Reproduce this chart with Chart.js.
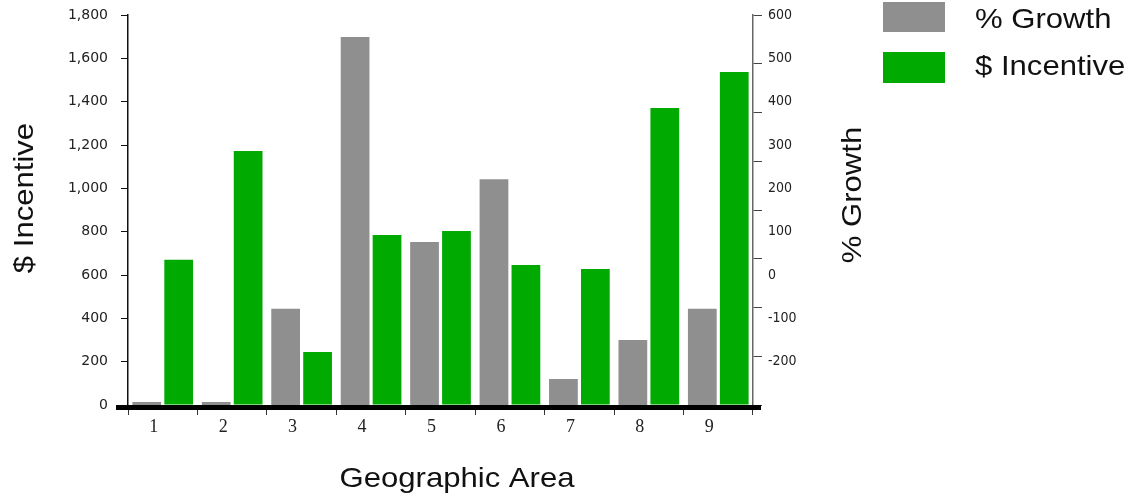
<!DOCTYPE html>
<html>
<head>
<meta charset="utf-8">
<script src="https://cdn.jsdelivr.net/npm/chart.js@4/dist/chart.umd.min.js"></script>
<style>
  html, body { margin: 0; padding: 0; background: #fff; }
  canvas { display: block; }
</style>
</head>
<body>
<canvas id="c" width="1135" height="500"></canvas>
<script>
// Geographic areas on the category axis
const areas = ['1', '2', '3', '4', '5', '6', '7', '8', '9'];
// % Growth per area (right axis)
const growthPct = [-293, -293, -78, 549, 76, 221, -240, -150, -78];
// $ Incentive per area (left axis)
const incentive = [670, 1172, 245, 785, 803, 646, 628, 1371, 1537];

// Axis ranges and steps
const incentiveRange = [0, 1800, 200];
const growthRange = [-300, 600, 100];
const growthMarkCount = 8;

const GREY = '#8f8f8f';
const GREEN = '#00aa00';
const TITLE_FONT = '28px "Liberation Sans", Arial, sans-serif';
const STRETCH = 1.11;

function wideText(ctx, text, x, y, rot, align) {
  ctx.save();
  ctx.translate(x, y);
  ctx.rotate(rot);
  ctx.scale(STRETCH, 1);
  ctx.textAlign = align;
  ctx.textBaseline = 'alphabetic';
  ctx.fillText(text, 0, 0);
  ctx.restore();
}

const decor = {
  id: 'decor',
  afterDatasetsDraw(chart) {
    const { ctx, chartArea: a } = chart;
    ctx.save();
    ctx.fillStyle = '#000';
    ctx.fillRect(a.left - 12, a.bottom, a.right - a.left + 20, 5);
    ctx.restore();
  },
  afterDraw(chart) {
    const { ctx } = chart;
    ctx.save();
    ctx.fillStyle = '#111';
    ctx.font = TITLE_FONT;
    // axis titles
    wideText(ctx, '$ Incentive', 33, 198, -Math.PI / 2, 'center');
    wideText(ctx, '% Growth', 861, 195, -Math.PI / 2, 'center');
    wideText(ctx, 'Geographic Area', 457, 487, 0, 'center');
    // legend
    const rows = [[2, 30, 28], [52, 31, 75]];
    chart.data.datasets.forEach((ds, i) => {
      const [top, h, base] = rows[i];
      ctx.fillStyle = ds.backgroundColor;
      ctx.fillRect(883, top, 62, h);
      ctx.fillStyle = '#111';
      wideText(ctx, ds.label, 975, base, 0, 'left');
    });
    ctx.restore();
  }
};

new Chart(document.getElementById('c'), {
  type: 'bar',
  data: {
    labels: areas,
    datasets: [
      {
        label: '% Growth',
        data: growthPct,
        yAxisID: 'yPct',
        base: growthRange[0],
        backgroundColor: GREY
      },
      {
        label: '$ Incentive',
        data: incentive,
        yAxisID: 'y',
        backgroundColor: GREEN
      }
    ]
  },
  options: {
    responsive: false,
    animation: false,
    layout: { padding: { top: 15, left: 0, right: 0, bottom: 0 } },
    plugins: { legend: { display: false }, tooltip: { enabled: false } },
    datasets: { bar: { categoryPercentage: 0.92, barPercentage: 0.9 } },
    scales: {
      x: {
        type: 'category',
        offset: true,
        grid: { offset: true, drawOnChartArea: false, drawTicks: true, tickLength: 10, color: '#333' },
        border: { display: false },
        ticks: {
          font: { family: '"Liberation Serif", "Times New Roman", serif', size: 18 },
          color: '#222', padding: 1, labelOffset: -9, maxRotation: 0, autoSkip: false
        },
        afterFit(s) { s.height = 95; s.paddingLeft = 0; s.paddingRight = 0; }
      },
      y: {
        position: 'left',
        min: incentiveRange[0], max: incentiveRange[1],
        ticks: {
          stepSize: incentiveRange[2],
          callback: v => v.toLocaleString('en-US'),
          font: { family: '"DejaVu Sans", sans-serif', size: 14 },
          color: '#222', padding: 13
        },
        grid: { drawOnChartArea: false, tickLength: 7, color: '#111' },
        border: { color: '#111', width: 1.5 },
        afterFit(s) { s.width = 128; s.paddingTop = 0; s.paddingBottom = 0; }
      },
      yMarks: {
        position: 'right',
        weight: 0,
        min: 0, max: growthMarkCount,
        ticks: { stepSize: 1, callback: () => '' },
        grid: { drawOnChartArea: false, tickLength: 9, color: '#444' },
        border: { color: '#666', width: 1.5 },
        afterFit(s) { s.width = 12; s.paddingTop = 0; s.paddingBottom = 0; }
      },
      yPct: {
        position: 'right',
        weight: 1,
        min: growthRange[0], max: growthRange[1],
        ticks: {
          stepSize: growthRange[2],
          callback: v => (v === growthRange[0] ? '' : String(v)),
          font: { family: '"Liberation Sans Narrow", "DejaVu Sans Condensed", "Liberation Sans", sans-serif', size: 14 },
          color: '#222', padding: 3
        },
        grid: { display: false, drawTicks: false, drawOnChartArea: false },
        border: { display: false },
        afterFit(s) { s.width = 370; s.paddingTop = 0; s.paddingBottom = 0; }
      }
    }
  },
  plugins: [decor]
});
</script>
</body>
</html>
